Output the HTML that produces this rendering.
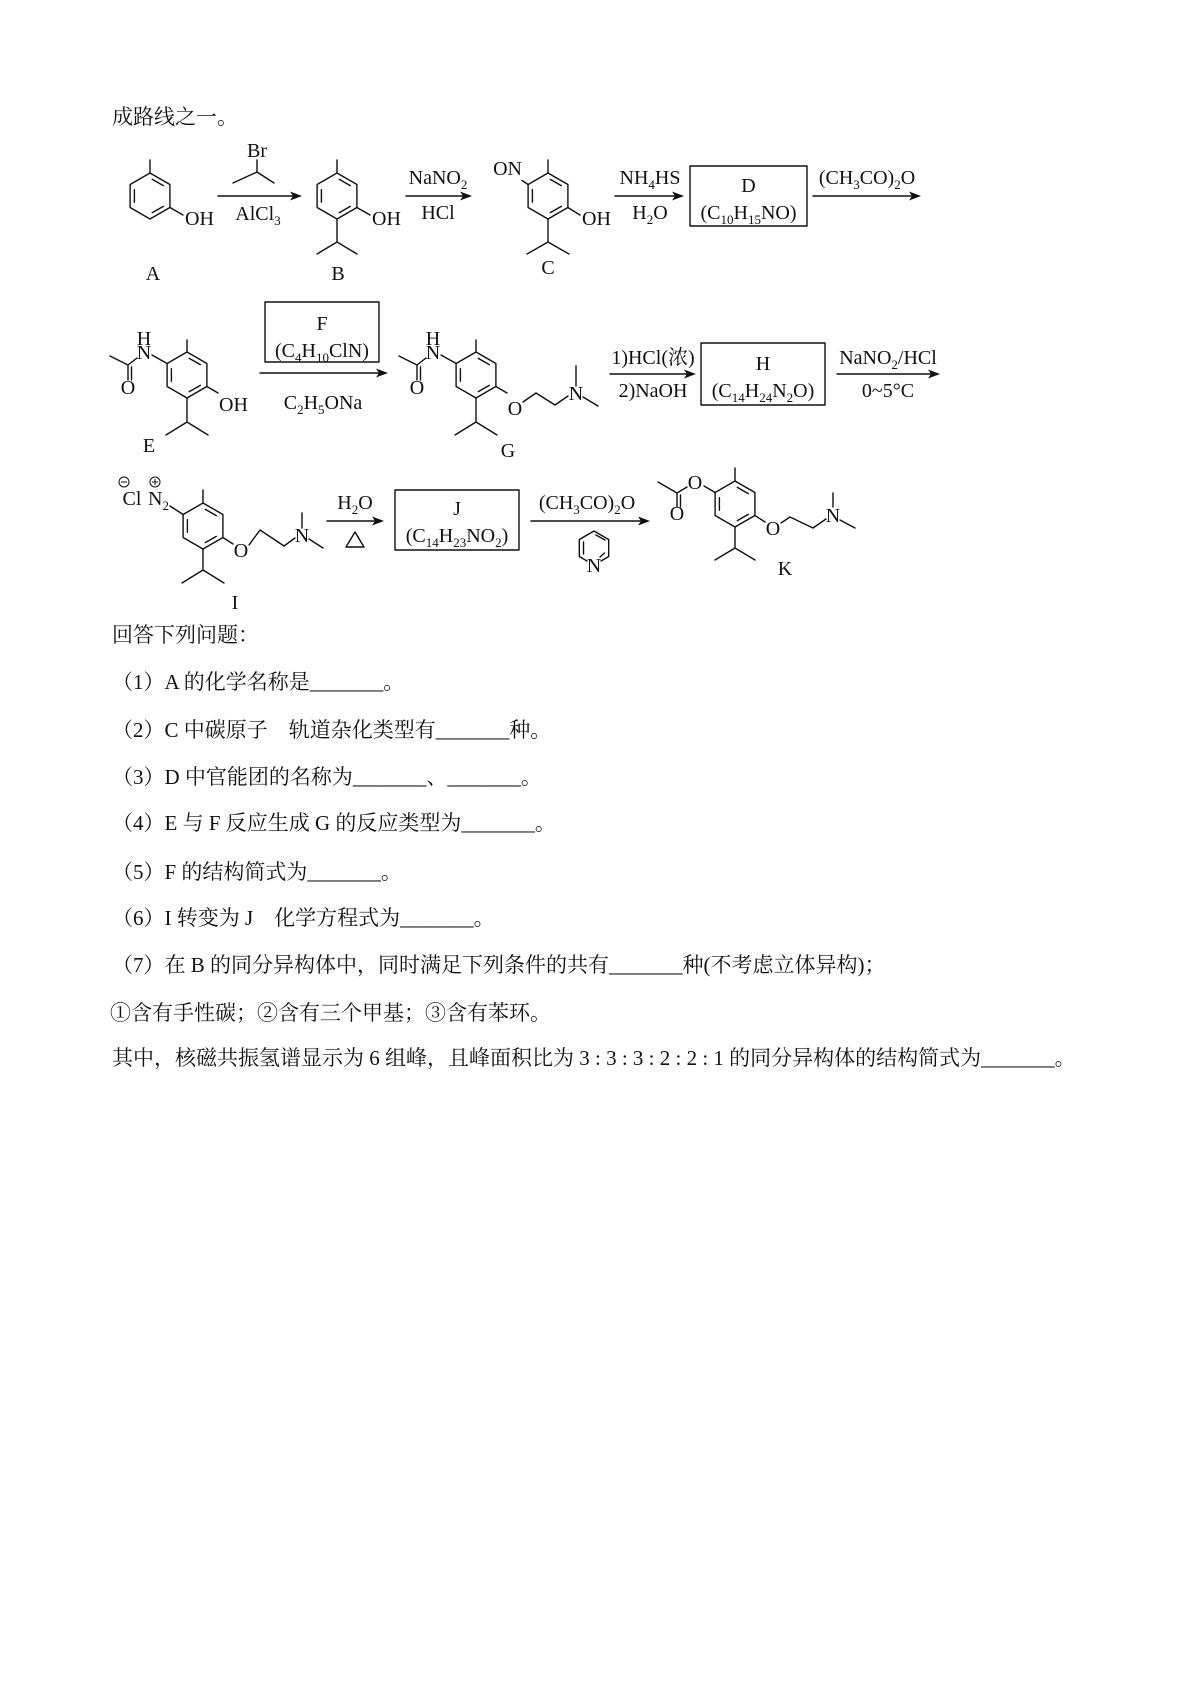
<!DOCTYPE html>
<html><head><meta charset="utf-8"><style>
html,body{margin:0;padding:0;background:#fff;}
svg{display:block;}
.t{font-family:"Liberation Serif","Noto Serif CJK SC",serif;font-size:20px;fill:#111;}
.q{font-family:"Liberation Serif","Noto Serif CJK SC",serif;font-size:21px;fill:#111;white-space:pre;}
.b{stroke:#111;stroke-width:1.4;fill:none;stroke-linecap:round;stroke-linejoin:round;}
</style></head><body>
<svg width="1200" height="1698" viewBox="0 0 1200 1698" xmlns="http://www.w3.org/2000/svg">
<defs>
<g id="ring"><path class="b" d="M0,-23 L19.9,-11.5 L19.9,11.5 L0,23 L-19.9,11.5 L-19.9,-11.5 Z M2.3,-16.6 L13.3,-10.4 M-15.6,-6.3 L-15.6,6.3 M13.3,10.4 L2.3,16.6"/></g>
</defs>

<text class="q" x="112" y="124">成路线之一。</text>

<!-- Row 1 -->
<use href="#ring" x="150" y="196"/>
<path class="b" d="M150,172.5 V160 M169.9,207.5 L183,215"/>
<text class="t" x="185" y="225">OH</text>
<text class="t" x="153" y="280" text-anchor="middle">A</text>

<text class="t" x="257" y="157" text-anchor="middle">Br</text>
<path class="b" d="M257,160 V172 M233,183 L257,172 L274,183"/>
<path class="b" d="M218,196 H294"/><polygon points="302,196 290,191.5 293,196 290,200.5" fill="#111"/>
<text class="t" x="258" y="220" text-anchor="middle">AlCl<tspan font-size="13" dy="5">3</tspan></text>

<use href="#ring" x="337" y="196"/>
<path class="b" d="M337,172.5 V160 M356.9,207.5 L370,215 M337,219 V242 M317,254 L337,242 L357,254"/>
<text class="t" x="372" y="225">OH</text>
<text class="t" x="338" y="280" text-anchor="middle">B</text>

<path class="b" d="M406,196 H464"/><polygon points="472,196 460,191.5 463,196 460,200.5" fill="#111"/>
<text class="t" x="438" y="184" text-anchor="middle">NaNO<tspan font-size="13" dy="5">2</tspan></text>
<text class="t" x="438" y="219" text-anchor="middle">HCl</text>

<use href="#ring" x="548" y="196"/>
<path class="b" d="M548,172.5 V160 M528.1,184.5 L522,180.5 M567.9,207.5 L580,215 M548,219 V242 M527,254 L548,242 L569,254"/>
<text class="t" x="522" y="175" text-anchor="end">ON</text>
<text class="t" x="582" y="225">OH</text>
<text class="t" x="548" y="274" text-anchor="middle">C</text>

<path class="b" d="M615,196 H676"/><polygon points="684,196 672,191.5 675,196 672,200.5" fill="#111"/>
<text class="t" x="650" y="184" text-anchor="middle">NH<tspan font-size="13" dy="5">4</tspan><tspan dy="-5">HS</tspan></text>
<text class="t" x="650" y="219" text-anchor="middle">H<tspan font-size="13" dy="5">2</tspan><tspan dy="-5">O</tspan></text>

<rect class="b" x="690" y="166" width="117" height="60"/>
<text class="t" x="748.5" y="192" text-anchor="middle">D</text>
<text class="t" x="748.5" y="219" text-anchor="middle">(C<tspan font-size="13" dy="5">10</tspan><tspan dy="-5">H</tspan><tspan font-size="13" dy="5">15</tspan><tspan dy="-5">NO)</tspan></text>

<path class="b" d="M813,196 H913"/><polygon points="921,196 909,191.5 912,196 909,200.5" fill="#111"/>
<text class="t" x="867" y="184" text-anchor="middle">(CH<tspan font-size="13" dy="5">3</tspan><tspan dy="-5">CO)</tspan><tspan font-size="13" dy="5">2</tspan><tspan dy="-5">O</tspan></text>

<!-- Row 2 -->
<use href="#ring" x="187" y="375"/>
<path class="b" d="M187,352 V340 M167.1,363.5 L152,355 M137,358 L128,365 M128,365 L110,356 M128,365 V380 M131.5,367 V380 M206.9,386.5 L218,393 M187,398 V422 M166,435 L187,422 L208,435"/>
<text class="t" x="144" y="359" text-anchor="middle">N</text>
<text class="t" x="144" y="345" text-anchor="middle">H</text>
<text class="t" x="128" y="394" text-anchor="middle">O</text>
<text class="t" x="219" y="411">OH</text>
<text class="t" x="149" y="452" text-anchor="middle">E</text>

<rect class="b" x="265" y="302" width="114" height="60"/>
<text class="t" x="322" y="330" text-anchor="middle">F</text>
<text class="t" x="322" y="357" text-anchor="middle">(C<tspan font-size="13" dy="5">4</tspan><tspan dy="-5">H</tspan><tspan font-size="13" dy="5">10</tspan><tspan dy="-5">ClN)</tspan></text>
<path class="b" d="M260,373 H380"/><polygon points="388,373 376,368.5 379,373 376,377.5" fill="#111"/>
<text class="t" x="323" y="409" text-anchor="middle">C<tspan font-size="13" dy="5">2</tspan><tspan dy="-5">H</tspan><tspan font-size="13" dy="5">5</tspan><tspan dy="-5">ONa</tspan></text>

<use href="#ring" x="476" y="375"/>
<path class="b" d="M476,352 V340 M456.1,363.5 L441,355 M426,358 L417,365 M417,365 L399,356 M417,365 V380 M420.5,367 V380 M495.9,386.5 L507,393 M523,402 L536,393 L555,405 L568,396 M576,386 V366 M583,397 L598,406 M476,398 V422 M455,435 L476,422 L497,435"/>
<text class="t" x="433" y="359" text-anchor="middle">N</text>
<text class="t" x="433" y="345" text-anchor="middle">H</text>
<text class="t" x="417" y="394" text-anchor="middle">O</text>
<text class="t" x="515" y="415" text-anchor="middle">O</text>
<text class="t" x="576" y="400" text-anchor="middle">N</text>
<text class="t" x="508" y="457" text-anchor="middle">G</text>

<path class="b" d="M610,374 H688"/><polygon points="696,374 684,369.5 687,374 684,378.5" fill="#111"/>
<text class="t" x="653" y="364" text-anchor="middle">1)HCl(浓)</text>
<text class="t" x="653" y="397" text-anchor="middle">2)NaOH</text>
<rect class="b" x="701" y="343" width="124" height="62"/>
<text class="t" x="763" y="370" text-anchor="middle">H</text>
<text class="t" x="763" y="397" text-anchor="middle">(C<tspan font-size="13" dy="5">14</tspan><tspan dy="-5">H</tspan><tspan font-size="13" dy="5">24</tspan><tspan dy="-5">N</tspan><tspan font-size="13" dy="5">2</tspan><tspan dy="-5">O)</tspan></text>
<path class="b" d="M837,374 H932"/><polygon points="940,374 928,369.5 931,374 928,378.5" fill="#111"/>
<text class="t" x="888" y="364" text-anchor="middle">NaNO<tspan font-size="13" dy="5">2</tspan><tspan dy="-5">/HCl</tspan></text>
<text class="t" x="888" y="397" text-anchor="middle">0~5°C</text>

<!-- Row 3 -->
<use href="#ring" x="203" y="526"/>
<path class="b" d="M203,503 V490 M170,506 L183.1,514.5 M222.9,537.5 L233,544 M249,545 L260,530 L284,546 L295,538 M302,528 V513 M309,539 L323,548 M203,549 V570 M182,583 L203,570 L224,583"/>
<text class="t" x="132" y="505" text-anchor="middle">Cl</text>
<circle cx="124" cy="482" r="5" fill="none" stroke="#111" stroke-width="1"/><path d="M121,482 H127" stroke="#111" stroke-width="1"/>
<text class="t" x="148" y="505">N<tspan font-size="13" dy="5">2</tspan></text>
<circle cx="155" cy="482" r="5" fill="none" stroke="#111" stroke-width="1"/><path d="M152,482 H158 M155,479 V485" stroke="#111" stroke-width="1"/>
<text class="t" x="241" y="557" text-anchor="middle">O</text>
<text class="t" x="302" y="542" text-anchor="middle">N</text>
<text class="t" x="235" y="609" text-anchor="middle">I</text>

<path class="b" d="M327,521 H376"/><polygon points="384,521 372,516.5 375,521 372,525.5" fill="#111"/>
<text class="t" x="355" y="509" text-anchor="middle">H<tspan font-size="13" dy="5">2</tspan><tspan dy="-5">O</tspan></text>
<polygon class="b" points="346,547 364,547 355,532"/>

<rect class="b" x="395" y="490" width="124" height="60"/>
<text class="t" x="457" y="515" text-anchor="middle">J</text>
<text class="t" x="457" y="542" text-anchor="middle">(C<tspan font-size="13" dy="5">14</tspan><tspan dy="-5">H</tspan><tspan font-size="13" dy="5">23</tspan><tspan dy="-5">NO</tspan><tspan font-size="13" dy="5">2</tspan><tspan dy="-5">)</tspan></text>

<path class="b" d="M531,521 H642"/><polygon points="650,521 638,516.5 641,521 638,525.5" fill="#111"/>
<text class="t" x="587" y="509" text-anchor="middle">(CH<tspan font-size="13" dy="5">3</tspan><tspan dy="-5">CO)</tspan><tspan font-size="13" dy="5">2</tspan><tspan dy="-5">O</tspan></text>
<path class="b" d="M587,561 L579.3,556.5 L579.3,539.5 L594,531 L608.7,539.5 L608.7,556.5 L601,561 M583.5,542 V554 M596,535 L605,540 M604.5,553 L600,557"/>
<text class="t" x="594" y="572" text-anchor="middle">N</text>

<use href="#ring" x="735" y="504"/>
<path class="b" d="M735,481 V468 M715.1,492.5 L704,486 M687,487 L677,493 M677,493 L658,482 M677,493 V507 M680.5,495 V507 M754.9,515.5 L765,522 M781,523 L790,517 L813,528 L826,519 M833,507 V493 M840,520 L855,528 M735,527 V548 M715,560 L735,548 L755,560"/>
<text class="t" x="695" y="489" text-anchor="middle">O</text>
<text class="t" x="677" y="520" text-anchor="middle">O</text>
<text class="t" x="773" y="535" text-anchor="middle">O</text>
<text class="t" x="833" y="522" text-anchor="middle">N</text>
<text class="t" x="785" y="575" text-anchor="middle">K</text>

<!-- Questions -->
<text class="q" x="112" y="642">回答下列问题：</text>
<text class="q" x="112" y="689">（1）A 的化学名称是_______。</text>
<text class="q" x="112" y="737">（2）C 中碳原子　轨道杂化类型有_______种。</text>
<text class="q" x="112" y="784">（3）D 中官能团的名称为_______、_______。</text>
<text class="q" x="112" y="830">（4）E 与 F 反应生成 G 的反应类型为_______。</text>
<text class="q" x="112" y="879">（5）F 的结构简式为_______。</text>
<text class="q" x="112" y="925">（6）I 转变为 J　化学方程式为_______。</text>
<text class="q" x="112" y="972">（7）在 B 的同分异构体中，同时满足下列条件的共有_______种(不考虑立体异构)；</text>
<text class="q" x="110" y="1020">①含有手性碳；②含有三个甲基；③含有苯环。</text>
<text class="q" x="112" y="1065">其中，核磁共振氢谱显示为 6 组峰，且峰面积比为 3 : 3 : 3 : 2 : 2 : 1 的同分异构体的结构简式为_______。</text>
</svg>
</body></html>
